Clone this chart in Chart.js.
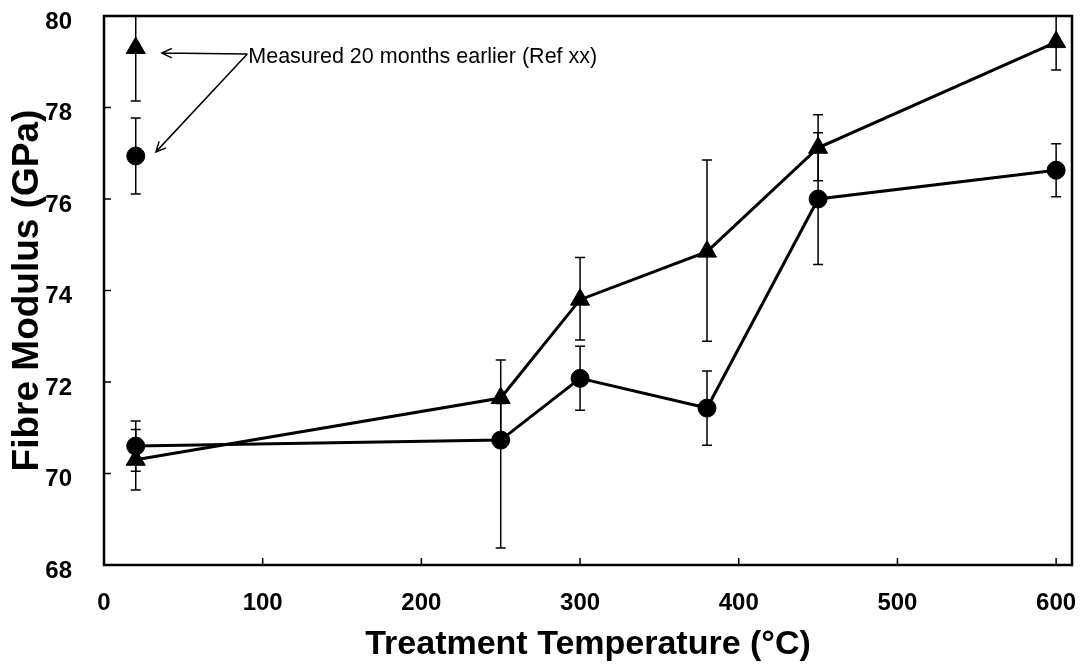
<!DOCTYPE html>
<html>
<head>
<meta charset="utf-8">
<script src="https://cdn.jsdelivr.net/npm/chart.js@4"></script>
<style>
    html, body { margin: 0; padding: 0; background: #fff; }
    #wrap { width: 1086px; height: 670px; }
</style>
</head>
<body>
<div id="wrap"><canvas id="modulusChart"></canvas></div>
<script>
// Treatment temperatures (°C)
const temperatures = [20, 250, 300, 380, 450, 600];

// Circle series (GPa) with error bars
const modulusCircle = [70.6, 70.73, 72.08, 71.43, 76.0, 76.63];
const circleErrPlus = [0.55, 0.8, 0.7, 0.81, 1.45, 0.58];
const circleErrMinus = [0.55, 2.36, 0.7, 0.81, 1.43, 0.58];

// Triangle series (GPa) with error bars
const modulusTriangle = [70.3, 71.65, 73.8, 74.85, 77.12, 79.43];
const triangleErrPlus = [0.66, 0.83, 0.92, 2.0, 0.72, 0.61];
const triangleErrMinus = [0.66, 0.83, 0.88, 1.96, 0.72, 0.61];

// Values measured 20 months earlier
const earlierTemperature = [20];
const earlierCircle = [76.94];
const earlierCircleErr = [0.83];
const earlierTriangle = [79.3];
const earlierTriangleErr = [1.16];

// Axis ticks
const xTicks = [0, 100, 200, 300, 400, 500, 600];
const yTicks = [68, 70, 72, 74, 76, 78, 80];

// Annotation (data units)
const noteText = 'Measured 20 months earlier (Ref xx)';
const noteAnchor = [90.3, 79.17];
const noteTargets = [[36.5, 79.19], [32.7, 77.03]];

const FONT = "'Liberation Sans', Arial, sans-serif";

function toPoints(xs, ys) {
    return xs.map((x, i) => ({ x: x, y: ys[i] }));
}

// drop the label overhang padding so the plot box sits where the original does
function noOverhang(scale) {
    scale.paddingTop = 0;
    scale.paddingBottom = 0;
    scale.paddingLeft = 0;
    scale.paddingRight = 0;
}

const errorBarsPlugin = {
    id: 'errorBars',
    beforeDatasetsDraw(chart) {
        const { ctx, chartArea, scales: { x, y } } = chart;
        ctx.save();
        ctx.beginPath();
        ctx.rect(chartArea.left, chartArea.top, chartArea.width, chartArea.height);
        ctx.clip();
        ctx.strokeStyle = '#000';
        ctx.lineWidth = 1.5;
        chart.data.datasets.forEach(ds => {
            if (!ds.errPlus) return;
            ds.data.forEach((p, i) => {
                const px = x.getPixelForValue(p.x);
                const top = y.getPixelForValue(p.y + ds.errPlus[i]);
                const bot = y.getPixelForValue(p.y - ds.errMinus[i]);
                ctx.beginPath();
                ctx.moveTo(px, top); ctx.lineTo(px, bot);
                ctx.moveTo(px - 5, top); ctx.lineTo(px + 5, top);
                ctx.moveTo(px - 5, bot); ctx.lineTo(px + 5, bot);
                ctx.stroke();
            });
        });
        ctx.restore();
    },
    afterDraw(chart) {
        const { ctx, chartArea: a, scales: { x, y } } = chart;
        ctx.save();
        // frame
        ctx.strokeStyle = '#000';
        ctx.lineWidth = 2.5;
        ctx.strokeRect(a.left, a.top, a.right - a.left, a.bottom - a.top);
        // inward tick marks
        ctx.lineWidth = 1.5;
        ctx.beginPath();
        x.ticks.forEach(t => {
            const px = x.getPixelForValue(t.value);
            ctx.moveTo(px, a.bottom); ctx.lineTo(px, a.bottom - 7);
        });
        y.ticks.forEach(t => {
            const py = y.getPixelForValue(t.value);
            ctx.moveTo(a.left, py); ctx.lineTo(a.left + 7, py);
        });
        ctx.stroke();

        // annotation with arrows
        const ax = x.getPixelForValue(noteAnchor[0]);
        const ay = y.getPixelForValue(noteAnchor[1]);
        ctx.lineWidth = 1.5;
        noteTargets.forEach(t => {
            const tx = x.getPixelForValue(t[0]);
            const ty = y.getPixelForValue(t[1]);
            const ang = Math.atan2(ty - ay, tx - ax);
            ctx.beginPath();
            ctx.moveTo(ax, ay); ctx.lineTo(tx, ty);
            ctx.moveTo(tx - 11 * Math.cos(ang - 0.45), ty - 11 * Math.sin(ang - 0.45));
            ctx.lineTo(tx, ty);
            ctx.lineTo(tx - 11 * Math.cos(ang + 0.45), ty - 11 * Math.sin(ang + 0.45));
            ctx.stroke();
        });
        ctx.fillStyle = '#000';
        ctx.font = '21.5px ' + FONT;
        ctx.textAlign = 'left';
        ctx.textBaseline = 'middle';
        ctx.fillText(noteText, ax + 1, ay + 3);
        ctx.restore();
    }
};

const lineStyle = {
    borderColor: '#000',
    backgroundColor: '#000',
    borderWidth: 3,
    pointBorderColor: '#000',
    pointBackgroundColor: '#000',
    pointBorderWidth: 1
};

new Chart(document.getElementById('modulusChart').getContext('2d'), {
    type: 'scatter',
    data: {
        datasets: [
            Object.assign({
                label: 'Circle',
                data: toPoints(temperatures, modulusCircle),
                errPlus: circleErrPlus,
                errMinus: circleErrMinus,
                showLine: true,
                pointStyle: 'circle',
                pointRadius: 9
            }, lineStyle),
            Object.assign({
                label: 'Triangle',
                data: toPoints(temperatures, modulusTriangle),
                errPlus: triangleErrPlus,
                errMinus: triangleErrMinus,
                showLine: true,
                pointStyle: 'triangle',
                pointRadius: 11
            }, lineStyle),
            Object.assign({
                label: 'Circle (earlier)',
                data: toPoints(earlierTemperature, earlierCircle),
                errPlus: earlierCircleErr,
                errMinus: earlierCircleErr,
                showLine: false,
                pointStyle: 'circle',
                pointRadius: 9
            }, lineStyle),
            Object.assign({
                label: 'Triangle (earlier)',
                data: toPoints(earlierTemperature, earlierTriangle),
                errPlus: earlierTriangleErr,
                errMinus: earlierTriangleErr,
                showLine: false,
                pointStyle: 'triangle',
                pointRadius: 11
            }, lineStyle)
        ]
    },
    options: {
        responsive: true,
        maintainAspectRatio: false,
        animation: false,
        layout: { padding: { top: 16, right: 14, left: 0, bottom: 0 } },
        plugins: {
            legend: { display: false },
            tooltip: { enabled: false }
        },
        scales: {
            x: {
                type: 'linear',
                min: 0,
                max: 610,
                afterBuildTicks: scale => { scale.ticks = xTicks.map(v => ({ value: v })); },
                afterFit: scale => { scale.height = 105; noOverhang(scale); },
                grid: { display: false },
                border: { display: false },
                ticks: {
                    color: '#000',
                    padding: 16,
                    maxRotation: 0,
                    font: { family: FONT, size: 24, weight: 'bold' }
                },
                title: {
                    display: true,
                    text: 'Treatment Temperature (°C)',
                    color: '#000',
                    padding: { top: 0, bottom: 5 },
                    font: { family: FONT, size: 34, weight: 'bold' }
                }
            },
            y: {
                min: 68,
                max: 80,
                afterBuildTicks: scale => { scale.ticks = yTicks.map(v => ({ value: v })); },
                afterFit: scale => { scale.width = 104; noOverhang(scale); },
                grid: { display: false },
                border: { display: false },
                ticks: {
                    color: '#000',
                    padding: 24,
                    labelOffset: 6,
                    font: { family: FONT, size: 24, weight: 'bold' }
                },
                title: {
                    display: true,
                    text: 'Fibre Modulus (GPa)',
                    color: '#000',
                    padding: { top: 6, bottom: 0 },
                    font: { family: FONT, size: 37, weight: 'bold' }
                }
            }
        }
    },
    plugins: [errorBarsPlugin]
});
</script>
</body>
</html>
